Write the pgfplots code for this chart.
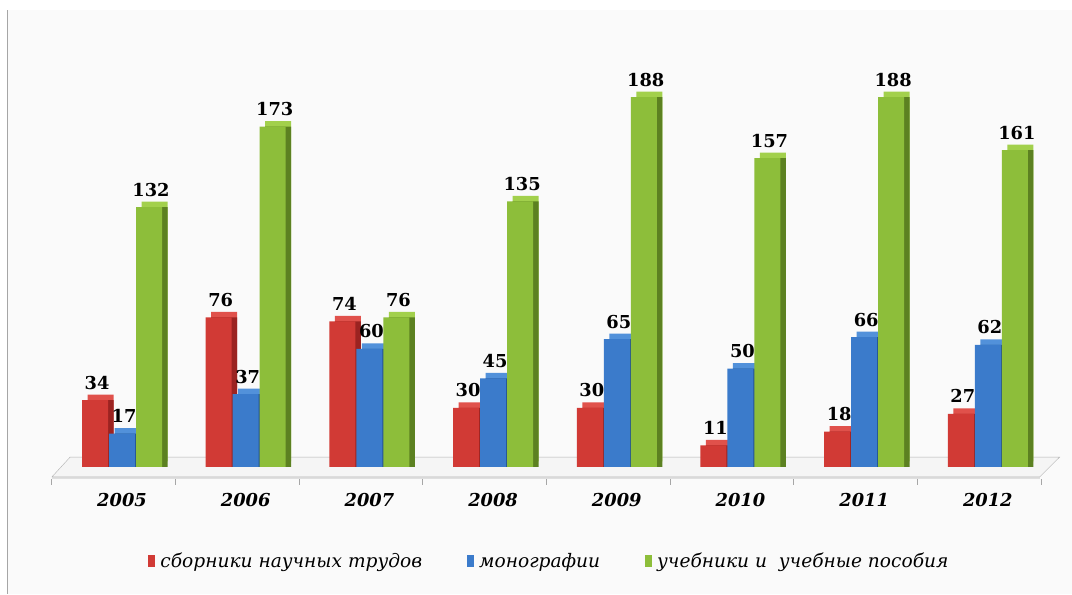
\documentclass[border=0pt]{standalone}
\usepackage{pgfplots}
\pgfplotsset{compat=1.18}
\usepackage{fontspec}
\setmainfont{DejaVu Serif}
\definecolor{redF}{HTML}{D13A35}
\definecolor{redT}{HTML}{E0514B}
\definecolor{redS}{HTML}{9B2321}
\definecolor{blueF}{HTML}{3B7BCB}
\definecolor{blueT}{HTML}{5291DA}
\definecolor{blueS}{HTML}{24548F}
\definecolor{greenF}{HTML}{8DBE3A}
\definecolor{greenT}{HTML}{A2D04C}
\definecolor{greenS}{HTML}{5C8121}
\definecolor{bg}{HTML}{FAFAFA}
\begin{document}
\begin{tikzpicture}[x=1pt,y=1pt]
\fill[white] (0,0) rectangle (1072,594);
\fill[bg] (7,0) rectangle (1072,584);
\draw[gray!70, line width=1.5pt] (7.5,0) -- (7.5,584);
\begin{axis}[
  at={(47.8pt,115.2pt)}, anchor=south west,
  scale only axis, width=1014.3pt, height=405.4pt,
  xmin=-0.6, xmax=7.6, ymin=-6, ymax=200,
  axis line style={draw=none},
  ytick=\empty,
  xtick pos=bottom,
  xtick={0,...,7}, xticklabels={2005,2006,2007,2008,2009,2010,2011,2012},
  major tick length=0pt,
  extra x ticks={-0.57,0.43,1.43,2.43,3.43,4.43,5.43,6.43,7.43},
  extra x tick labels={},
  extra x tick style={major tick length=6pt, tick align=outside, tick style={draw=gray!70, line width=0.6pt}},
  xticklabel style={font=\fontsize{17.8}{20}\selectfont\bfseries\itshape, anchor=base, yshift=-28pt},
  /pgf/number format/assume math mode=true,
  ybar, bar width=26pt,
  clip=false,
  legend columns=3,
  legend style={at={(0.4946,-0.2035)}, anchor=center, draw=none, fill=none,
    font=\fontsize{18.6}{22}\selectfont\itshape,
    /tikz/every odd column/.append style={column sep=3pt},
    /tikz/every even column/.append style={column sep=43pt}},
  legend image code/.code={\fill[#1] (0pt,-6pt) rectangle (7pt,6pt);},
  every node near coord/.append style={font=\fontsize{17.8}{20}\selectfont\bfseries, anchor=base, inner sep=0pt, yshift=11pt, xshift=2pt, text=black},
]
% floor
\fill[gray!25] (axis cs:-0.566,-5) -- (axis cs:7.42,-5) -- (axis cs:7.42,-6.3) -- (axis cs:-0.566,-6.3) -- cycle;
\filldraw[fill=gray!8, draw=gray!60] (axis cs:-0.566,-5) -- (axis cs:7.42,-5) -- (axis cs:7.58,5) -- (axis cs:-0.42,5) -- cycle;
% red
\addplot[forget plot, fill=redT, draw=none, bar shift=-27pt, xshift=5.5pt, yshift=5.5pt] coordinates {(0,34) (1,76) (2,74) (3,30) (4,30) (5,11) (6,18) (7,27)};
\addplot[forget plot, fill=redS, draw=none, bar shift=-27pt, xshift=5.5pt] coordinates {(0,34) (1,76) (2,74) (3,30) (4,30) (5,11) (6,18) (7,27)};
\addplot[fill=redF, draw=none, bar shift=-27pt, nodes near coords] coordinates {(0,34) (1,76) (2,74) (3,30) (4,30) (5,11) (6,18) (7,27)};
% blue
\addplot[forget plot, fill=blueT, draw=none, bar shift=0pt, xshift=5.5pt, yshift=5.5pt] coordinates {(0,17) (1,37) (2,60) (3,45) (4,65) (5,50) (6,66) (7,62)};
\addplot[forget plot, fill=blueS, draw=none, bar shift=0pt, xshift=5.5pt] coordinates {(0,17) (1,37) (2,60) (3,45) (4,65) (5,50) (6,66) (7,62)};
\addplot[fill=blueF, draw=none, bar shift=0pt, nodes near coords] coordinates {(0,17) (1,37) (2,60) (3,45) (4,65) (5,50) (6,66) (7,62)};
% green
\addplot[forget plot, fill=greenT, draw=none, bar shift=27pt, xshift=5.5pt, yshift=5.5pt] coordinates {(0,132) (1,173) (2,76) (3,135) (4,188) (5,157) (6,188) (7,161)};
\addplot[forget plot, fill=greenS, draw=none, bar shift=27pt, xshift=5.5pt] coordinates {(0,132) (1,173) (2,76) (3,135) (4,188) (5,157) (6,188) (7,161)};
\addplot[fill=greenF, draw=none, bar shift=27pt, nodes near coords] coordinates {(0,132) (1,173) (2,76) (3,135) (4,188) (5,157) (6,188) (7,161)};
\legend{сборники научных трудов, монографии, учебники и \ учебные пособия}
\end{axis}
\end{tikzpicture}
\end{document}
